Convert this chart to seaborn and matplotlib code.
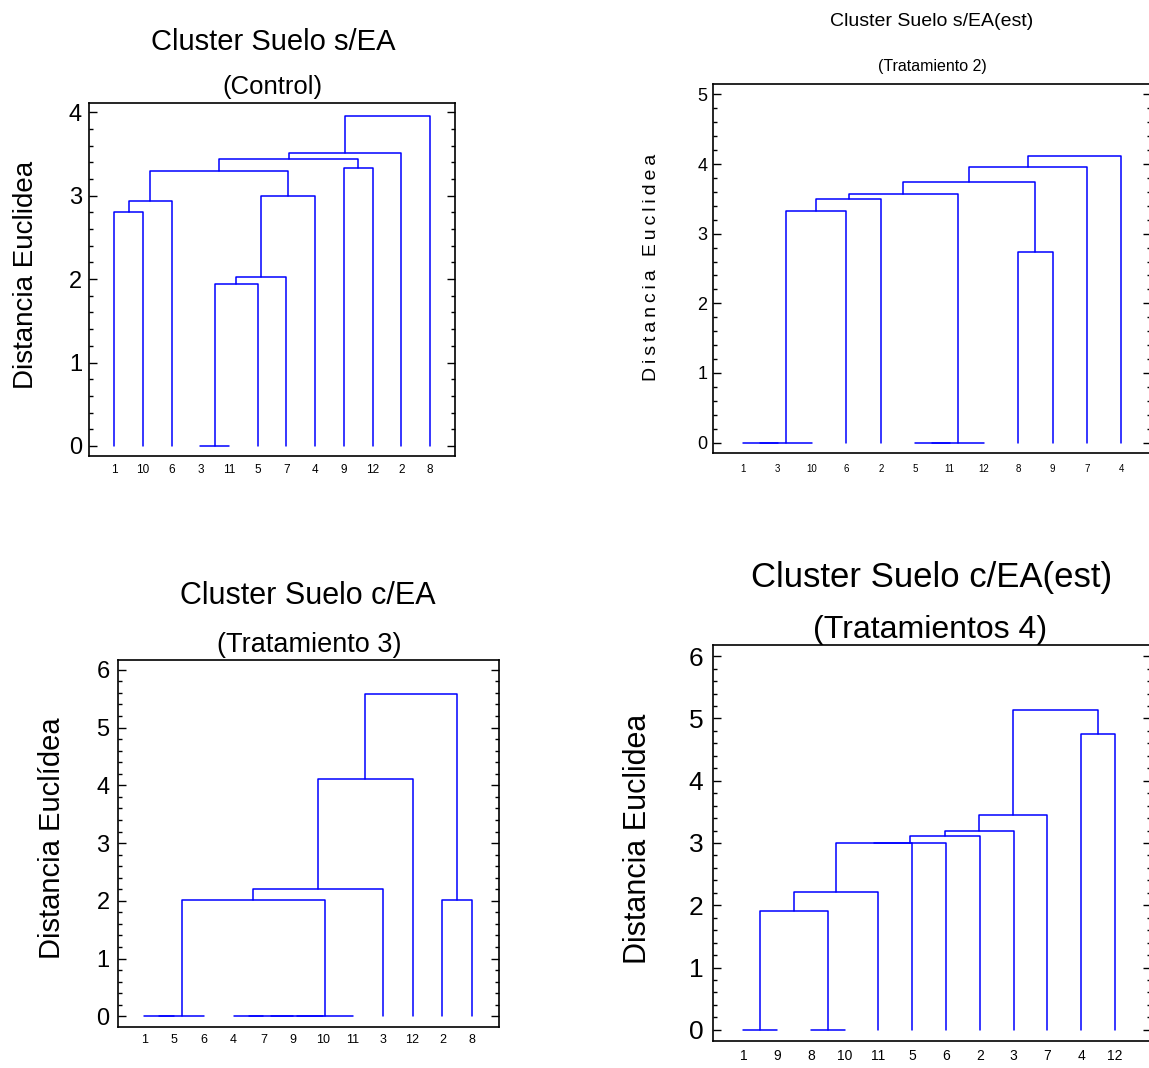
import pandas as pd
import matplotlib
matplotlib.use("Agg")
import matplotlib.pyplot as plt
from matplotlib.ticker import MultipleLocator
import seaborn as sns

# Hojas en el orden del dendrograma y uniones (izq, der, distancia); "cK" = cluster K
control_leaves = [1, 10, 6, 3, 11, 5, 7, 4, 9, 12, 2, 8]
control_merges = [
    ("3", "11", 0.0), ("c0", "5", 1.94), ("c1", "7", 2.02), ("c2", "4", 3.00),
    ("1", "10", 2.80), ("c4", "6", 2.93), ("c5", "c3", 3.30), ("9", "12", 3.33),
    ("c6", "c7", 3.44), ("c8", "2", 3.51), ("c9", "8", 3.96),
]

t2_leaves = [1, 3, 10, 6, 2, 5, 11, 12, 8, 9, 7, 4]
t2_merges = [
    ("1", "3", 0.0), ("c0", "10", 0.0), ("c1", "6", 3.32), ("c2", "2", 3.50),
    ("5", "11", 0.0), ("c4", "12", 0.0), ("c3", "c5", 3.57), ("8", "9", 2.73),
    ("c6", "c7", 3.74), ("c8", "7", 3.96), ("c9", "4", 4.11),
]

t3_leaves = [1, 5, 6, 4, 7, 9, 10, 11, 3, 12, 2, 8]
t3_merges = [
    ("1", "5", 0.0), ("c0", "6", 0.0), ("4", "7", 0.0), ("c2", "9", 0.0),
    ("c3", "10", 0.0), ("c4", "11", 0.0), ("c1", "c5", 2.02), ("c6", "3", 2.21),
    ("c7", "12", 4.11), ("2", "8", 2.02), ("c8", "c9", 5.58),
]

t4_leaves = [1, 9, 8, 10, 11, 5, 6, 2, 3, 7, 4, 12]
t4_merges = [
    ("1", "9", 0.0), ("8", "10", 0.0), ("c0", "c1", 1.91), ("c2", "11", 2.21),
    ("c3", "5", 3.00), ("c4", "6", 3.00), ("c5", "2", 3.12), ("c6", "3", 3.20),
    ("c7", "7", 3.45), ("4", "12", 4.75), ("c8", "c9", 5.14),
]


def link_table(leaves, merges):
    # coordenadas de cada union en forma de U
    pos = {str(l): (i + 1, 0.0) for i, l in enumerate(leaves)}
    rows = []
    for k, (a, b, h) in enumerate(merges):
        xa, ya = pos[a]
        xb, yb = pos[b]
        for x, y in [(xa, ya), (xa, h), (xb, h), (xb, yb)]:
            rows.append({"link": k, "x": x, "y": y})
        pos[f"c{k}"] = ((xa + xb) / 2, h)
    return pd.DataFrame(rows)


sns.set_style("ticks")
plt.rcParams["font.family"] = ["Liberation Sans", "DejaVu Sans"]
for key in ["text.color", "axes.labelcolor", "xtick.color", "ytick.color", "axes.edgecolor"]:
    plt.rcParams[key] = "black"

W, H = 1149, 1068
fig = plt.figure(figsize=(W / 100, H / 100), dpi=100)


def px(x, y):
    return x / W, 1 - y / H


panels = [
    dict(leaves=control_leaves, merges=control_merges, box=(89, 103, 455, 456),
         xlim=(0.12, 12.87), ylim=(-0.12, 4.11), ymax=4,
         title="Cluster Suelo s/EA", tpos=(273, 42), tsize=21,
         sub="(Control)", spos=(272, 87), ssize=18.5,
         ylabel="Distancia Euclidea", lpos=(26, 275), lsize=20,
         ytsize=17, xtsize=8.5, ypad=5, xpad=6, right_spine=True),
    dict(leaves=t2_leaves, merges=t2_merges, box=(713, 84, 1151, 453),
         xlim=(0.12, 12.86), ylim=(-0.15, 5.15), ymax=5,
         title="Cluster Suelo s/EA(est)", tpos=(932, 21), tsize=14,
         sub="(Tratamiento 2)", spos=(932, 67), ssize=11.5,
         ylabel="\u2009".join("Distancia Euclidea"), lpos=(651, 267), lsize=14,
         ytsize=13, xtsize=7, ypad=4, xpad=8, right_spine=False),
    dict(leaves=t3_leaves, merges=t3_merges, box=(118, 660, 499, 1027),
         xlim=(0.12, 12.9), ylim=(-0.185, 6.17), ymax=6,
         title="Cluster Suelo c/EA", tpos=(308, 596), tsize=22,
         sub="(Tratamiento 3)", spos=(309, 645), ssize=19.5,
         ylabel="Distancia Euclídea", lpos=(52, 838), lsize=21,
         ytsize=17, xtsize=9, ypad=6, xpad=5, right_spine=True),
    dict(leaves=t4_leaves, merges=t4_merges, box=(713, 645, 1151, 1041),
         xlim=(0.1, 13.07), ylim=(-0.18, 6.18), ymax=6,
         title="Cluster Suelo c/EA(est)", tpos=(932, 577), tsize=25,
         sub="(Tratamientos 4)", spos=(930, 630), ssize=23,
         ylabel="Distancia Euclidea", lpos=(638, 839), lsize=22,
         ytsize=19, xtsize=10, ypad=7, xpad=6, right_spine=False),
]

for p in panels:
    l, t, r, b = p["box"]
    ax = fig.add_axes([l / W, 1 - b / H, (r - l) / W, (b - t) / H])
    df = link_table(p["leaves"], p["merges"])
    sns.lineplot(data=df, x="x", y="y", units="link", estimator=None, sort=False,
                 color="#0000ff", lw=1.1, ax=ax)
    ax.set_xlim(*p["xlim"])
    ax.set_ylim(*p["ylim"])
    ax.set_xticks(range(1, len(p["leaves"]) + 1))
    ax.set_xticklabels([str(v) for v in p["leaves"]], fontsize=p["xtsize"])
    ax.set_yticks(range(0, p["ymax"] + 1))
    ax.set_yticklabels([str(v) for v in range(0, p["ymax"] + 1)], fontsize=p["ytsize"])
    ax.yaxis.set_minor_locator(MultipleLocator(0.2))
    ax.tick_params(axis="y", which="major", direction="in", length=6, width=1,
                   left=True, right=True, pad=p["ypad"])
    ax.tick_params(axis="y", which="minor", direction="in", length=3, width=1,
                   left=True, right=True)
    ax.tick_params(axis="x", length=0, pad=p["xpad"])
    for s in ax.spines.values():
        s.set_linewidth(1.2)
        s.set_color("black")
    ax.spines["right"].set_visible(p["right_spine"])
    ax.set_xlabel("")
    ax.set_ylabel(p["ylabel"], fontsize=p["lsize"])
    lx, ly = p["lpos"]
    ax.yaxis.set_label_coords((lx - l) / (r - l), (b - ly) / (b - t))
    ax.yaxis.label.set_va("center")
    fig.text(*px(*p["tpos"]), p["title"], ha="center", va="center", fontsize=p["tsize"])
    fig.text(*px(*p["spos"]), p["sub"], ha="center", va="center", fontsize=p["ssize"])

fig.savefig("out.png", dpi=100)
